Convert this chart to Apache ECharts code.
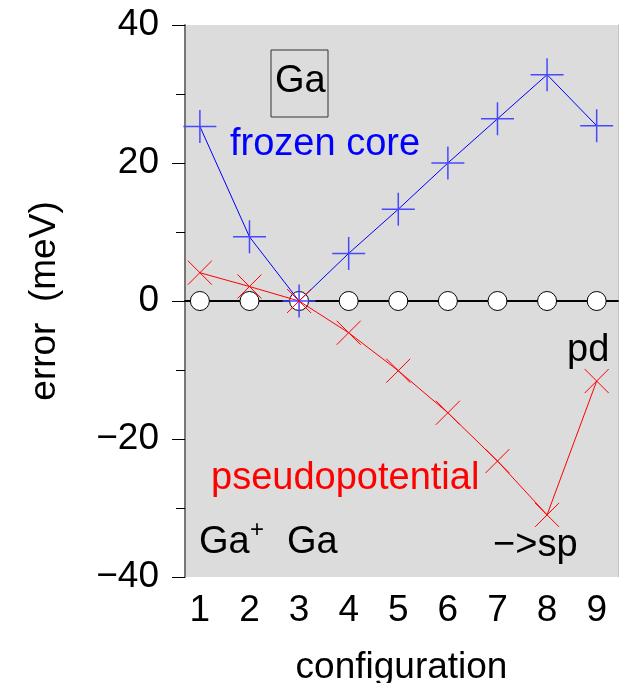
<!DOCTYPE html>
<html>
<head>
<meta charset="utf-8">
<script src="https://cdn.jsdelivr.net/npm/echarts@6/dist/echarts.min.js"></script>
<style>
  html, body { margin: 0; padding: 0; background: #fff; }
  #chart { width: 619px; height: 683px; }
</style>
</head>
<body>
<div id="chart"></div>
<script>
const FONT = "'Liberation Sans', Arial, sans-serif";
const configs = [1, 2, 3, 4, 5, 6, 7, 8, 9];
const frozenCore = [25.3, 9.3, 0, 6.9, 13.3, 20.0, 26.4, 32.8, 25.4];
const pseudo = [4.1, 2.1, 0, -4.6, -10.1, -16.2, -23.2, -31.0, -11.6];
const reference = [0, 0, 0, 0, 0, 0, 0, 0, 0];
const yTicks = [-40, -20, 0, 20, 40];

const pairs = (ys) => configs.map((x, i) => [x, ys[i]]);
const minus = (v) => (v < 0 ? "\u2212" + Math.abs(v) : String(v));

const PLUS = "path://M0,-10 L0,10 M-10,0 L10,0";
const CROSS = "path://M-10,-10 L10,10 M-10,10 L10,-10";

const chart = echarts.init(document.getElementById("chart"), null, { renderer: "canvas" });

// lines and markers are separate series so the marker strokes keep their own colour
function lineSeries(name, ys, color, z) {
  return { name, type: "line", data: pairs(ys), z, showSymbol: false, lineStyle: { color, width: 1 }, itemStyle: { color } };
}
function markerSeries(name, ys, symbol, size, stroke, width, z) {
  return {
    name, type: "scatter", data: pairs(ys), z, symbol, symbolSize: size,
    itemStyle: { color: "rgba(0,0,0,0)", borderColor: stroke, borderWidth: width, opacity: 1 },
  };
}

chart.setOption({
  animation: false,
  textStyle: { fontFamily: FONT },
  grid: { left: 185, top: 25, right: 1, bottom: 106, show: true, backgroundColor: "#dcdcdc", borderWidth: 0, outerBoundsMode: "none", containLabel: false },
  xAxis: [
    {
      type: "value", min: 0.7, max: 9.43, position: "bottom",
      name: "configuration", nameLocation: "middle", nameGap: 72,
      nameTextStyle: { fontSize: 37, color: "#000", fontFamily: FONT },
      axisLine: { lineStyle: { color: "#000", width: 1.5 } },
      axisTick: { show: true, length: 10, inside: false, customValues: configs, lineStyle: { color: "#333", width: 1 } },
      axisLabel: { customValues: configs, fontSize: 37, color: "#000", margin: 15, fontFamily: FONT },
      splitLine: { show: false },
    },
    {
      type: "value", min: 0.7, max: 9.43, position: "top",
      axisLine: { show: true, lineStyle: { color: "#000", width: 1.5 } },
      axisTick: { show: false }, axisLabel: { show: false }, splitLine: { show: false },
    },
  ],
  yAxis: [
    {
      type: "value", min: -40, max: 40, interval: 20, position: "left",
      name: "error  (meV)", nameLocation: "middle", nameGap: 122,
      nameTextStyle: { fontSize: 37, color: "#000", fontFamily: FONT },
      axisLine: { show: true, lineStyle: { color: "#777", width: 2 } },
      axisTick: { show: true, length: 13, lineStyle: { color: "#000", width: 1 } },
      minorTick: { show: true, splitNumber: 2, length: 9, lineStyle: { color: "#000", width: 1 } },
      axisLabel: { fontSize: 37, color: "#000", margin: 26, fontFamily: FONT, formatter: minus, customValues: yTicks },
      splitLine: { show: false },
    },
    {
      type: "value", min: -40, max: 40, position: "right",
      axisLine: { show: true, lineStyle: { color: "#c4c4c4", width: 1 } },
      axisTick: { show: false }, axisLabel: { show: false }, splitLine: { show: false },
    },
  ],
  series: [
    {
      name: "reference", type: "scatter", data: pairs(reference), z: 2,
      symbol: "circle", symbolSize: 19,
      itemStyle: { color: "#fff", borderColor: "#000", borderWidth: 1, opacity: 1 },
      markLine: {
        silent: true, symbol: "none", label: { show: false },
        lineStyle: { color: "#000", width: 1.5, type: "solid" },
        data: [{ yAxis: 0 }],
        z: 1,
      },
    },
    lineSeries("frozen core", frozenCore, "#0000ff", 3),
    lineSeries("pseudopotential", pseudo, "#ff0000", 3),
    markerSeries("frozen core markers", frozenCore, PLUS, 33, "#4848ff", 1.5, 4),
    markerSeries("pseudopotential markers", pseudo, CROSS, 24, "#ff0000", 1, 5),
  ],
  graphic: [
    { type: "rect", shape: { x: 271, y: 50, width: 57, height: 67 }, style: { fill: "none", stroke: "#333", lineWidth: 1 }, z: 10 },
    { type: "text", style: { x: 275, y: 82, text: "Ga", font: "38px " + FONT, fill: "#000", verticalAlign: "middle" }, z: 10 },
    { type: "text", style: { x: 230, y: 145, text: "frozen core", font: "38px " + FONT, fill: "#0000ff", verticalAlign: "middle" }, z: 10 },
    { type: "text", style: { x: 211, y: 479, text: "pseudopotential", font: "38px " + FONT, fill: "#ff0000", verticalAlign: "middle" }, z: 10 },
    { type: "text", style: { x: 199, y: 543, text: "Ga", font: "38px " + FONT, fill: "#000", verticalAlign: "middle" }, z: 10 },
    { type: "text", style: { x: 250, y: 530, text: "+", font: "24px " + FONT, fill: "#000", verticalAlign: "middle" }, z: 10 },
    { type: "text", style: { x: 287, y: 543, text: "Ga", font: "38px " + FONT, fill: "#000", verticalAlign: "middle" }, z: 10 },
    { type: "text", style: { x: 567, y: 351, text: "pd", font: "38px " + FONT, fill: "#000", verticalAlign: "middle" }, z: 10 },
    { type: "text", style: { x: 493, y: 546, text: "\u2212>sp", font: "38px " + FONT, fill: "#000", verticalAlign: "middle" }, z: 10 },
  ],
});
</script>
</body>
</html>
